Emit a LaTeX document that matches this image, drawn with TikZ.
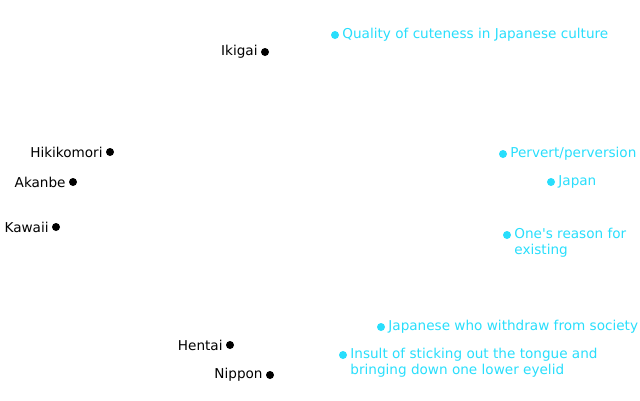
\documentclass[tikz,border=0pt]{standalone}
\usepackage{fontspec}
\setmainfont{DejaVu Sans}
\usetikzlibrary{positioning}
\definecolor{cian}{RGB}{40,222,252}

\newcommand{\coordTerminos}{
\coordinate (ikigai) at (265,52);
\coordinate (hikikomori) at (110,152);
\coordinate (akanbe) at (73,182);
\coordinate (kawaii) at (56,227);
\coordinate (hentai) at (230,345);
\coordinate (nippon) at (270,375);
}
\newcommand{\coordSignificados}{
\coordinate (cute) at (335,35);
\coordinate (pervert) at (503,154);
\coordinate (japan) at (551,182);
\coordinate (reason) at (507,235);
\coordinate (withdraw) at (381,327);
\coordinate (insult) at (343,355);
}
\tikzset{
punto/.style={circle,fill=black,minimum size=8pt,inner sep=0pt},
puntoSol/.style={circle,fill=cian,minimum size=8pt,inner sep=0pt},
termino/.style={inner sep=0pt,font=\fontsize{13.6}{16}\selectfont},
significado/.style={inner sep=0pt,text=cian,align=left,font=\fontsize{13.6}{16}\selectfont}
}

\begin{document}
\begin{tikzpicture}[x=1pt,y=-1pt]
    \useasboundingbox (0,0) rectangle (640,400);
    \coordTerminos
    \coordSignificados

    \foreach \n/\t in {ikigai/Ikigai,hikikomori/Hikikomori,akanbe/Akanbe,kawaii/Kawaii,hentai/Hentai,nippon/Nippon}{
        \node[punto] (p-\n) at (\n) {};
        \node[termino,left=3pt of p-\n] (t-\n) {\t};
    }

    \foreach \n in {cute,pervert,japan,reason,withdraw,insult}{
        \node[puntoSol] (p-\n) at (\n) {};
    }
    \node[significado,right=3pt of p-cute] (s-cute) {Quality of cuteness in Japanese culture};
    \node[significado,right=3pt of p-pervert] (s-pervert) {Pervert/perversion};
    \node[significado,right=3pt of p-japan] (s-japan) {Japan};
    \node[significado,right=3pt of p-reason,yshift=-8pt] (s-reason) {One\textquotesingle s reason for\\existing};
    \node[significado,right=3pt of p-withdraw] (s-withdraw) {Japanese who withdraw from society};
    \node[significado,right=3pt of p-insult,yshift=-8pt] (s-insult) {Insult of sticking out the tongue and\\bringing down one lower eyelid};
\end{tikzpicture}
\end{document}
